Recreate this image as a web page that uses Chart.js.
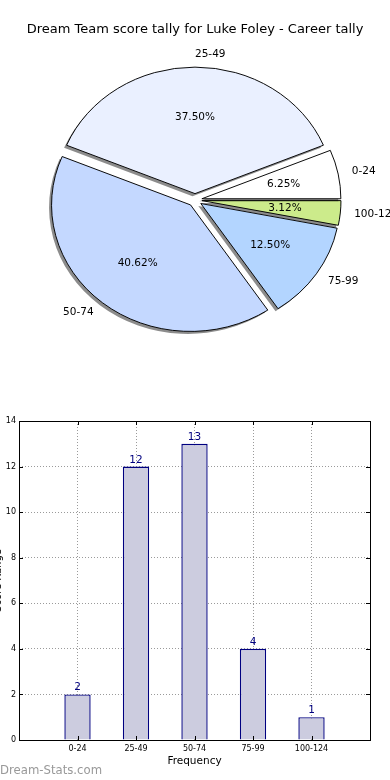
<!DOCTYPE html>
<html>
<head>
<meta charset="utf-8">
<script src="https://cdn.jsdelivr.net/npm/chart.js@4.4.0/dist/chart.umd.min.js"></script>
<style>
  html, body { margin: 0; padding: 0; background: #fff; }
  body { position: relative; width: 390px; height: 780px; overflow: hidden; }
  #pie { position: absolute; left: 0; top: 0; }
  #bargraph { position: absolute; left: -8px; top: 400px; }
  #credit { position: absolute; left: 0; top: 764px; font: 11.7px/12px "DejaVu Sans", sans-serif; color: #999; }
</style>
</head>
<body>
<canvas id="pie" width="390" height="400"></canvas>
<canvas id="bargraph" width="398" height="380"></canvas>
<div id="credit">Dream-Stats.com</div>
<script>
// score bins and how many games fell in each
var categories = ["0-24", "25-49", "50-74", "75-99", "100-124"];
var tally = [2, 12, 13, 4, 1];
var pieColors = ["#ffffff", "#eaf0ff", "#c4d8ff", "#b3d5ff", "#cceb8b"];
var yTicks = [0, 2, 4, 6, 8, 10, 12, 14];

var FONT = "DejaVu Sans";
var PIE_R = 139, PIE_SY = 0.91, EXPLODE = 7;

// python style %1.2f (round half to even)
function pctText(v, total) {
  var x = v / total * 10000;
  var n = Math.floor(x);
  var f = x - n;
  if (Math.abs(f - 0.5) < 1e-9) { if (n % 2) n += 1; }
  else if (f > 0.5) n += 1;
  return (n / 100).toFixed(2) + "%";
}

var total = tally.reduce(function (a, b) { return a + b; }, 0);
// matplotlib goes counter-clockwise, chart.js clockwise -> reverse
var pieLabels = categories.slice().reverse();
var pieData = tally.slice().reverse();
var pieBg = pieColors.slice().reverse();

var explodedPie = {
  id: 'explodedPie',
  beforeDatasetsDraw: function (chart) {
    var meta = chart.getDatasetMeta(0);
    meta.data.forEach(function (arc) {
      if (arc._wrapped) return;
      arc._wrapped = true;
      var base = Object.getPrototypeOf(arc).draw;
      arc.draw = function (c, area) {
        var mid = (this.startAngle + this.endAngle) / 2;
        c.save();
        c.translate(Math.cos(mid) * EXPLODE, Math.sin(mid) * EXPLODE);
        c.shadowColor = 'rgba(0,0,0,0.45)';
        c.shadowOffsetX = -2.5;
        c.shadowOffsetY = 2.5;
        // shadow only under the fill, not the edge line
        var stroke = c.stroke;
        c.stroke = function () {
          this.shadowColor = 'rgba(0,0,0,0)';
          return stroke.apply(this, arguments);
        };
        base.call(this, c, area);
        delete c.stroke;
        c.restore();
      };
    });
    var a = meta.data[0];
    var ctx = chart.ctx;
    ctx.save();
    ctx.translate(a.x, a.y);
    ctx.scale(1, PIE_SY);
    ctx.translate(-a.x, -a.y);
  },
  afterDatasetsDraw: function (chart) {
    var ctx = chart.ctx;
    ctx.restore();
    var meta = chart.getDatasetMeta(0);
    ctx.save();
    ctx.fillStyle = '#000';
    ctx.font = '10.5px "' + FONT + '"';
    ctx.textBaseline = 'middle';
    meta.data.forEach(function (arc, i) {
      var mid = (arc.startAngle + arc.endAngle) / 2;
      var cs = Math.cos(mid), sn = Math.sin(mid);
      var r = arc.outerRadius;
      ctx.textAlign = 'center';
      ctx.fillText(pctText(pieData[i], total),
        arc.x + cs * (EXPLODE + 0.6 * r), arc.y + sn * (EXPLODE + 0.6 * r) * PIE_SY);
      ctx.textAlign = cs >= -1e-9 ? 'left' : 'right';
      ctx.fillText(pieLabels[i],
        arc.x + cs * (EXPLODE + 1.1 * r), arc.y + sn * (EXPLODE + 1.1 * r) * PIE_SY);
    });
    ctx.restore();
  }
};

new Chart(document.getElementById('pie'), {
  type: 'pie',
  data: {
    labels: pieLabels,
    datasets: [{
      data: pieData,
      backgroundColor: pieBg,
      borderColor: '#000',
      borderWidth: 1,
      hoverOffset: 0,
      clip: false
    }]
  },
  options: {
    responsive: false,
    animation: false,
    rotation: 90,
    radius: PIE_R,
    layout: { padding: { top: 0, bottom: 52, left: 0, right: 0 } },
    plugins: {
      legend: { display: false },
      tooltip: { enabled: false },
      title: {
        display: true,
        text: 'Dream Team score tally for Luke Foley - Career tally',
        color: '#000',
        font: { family: FONT, size: 13, weight: 'normal' },
        padding: { top: 22, bottom: 14.4 }
      }
    }
  },
  plugins: [explodedPie]
});

// bar chart
var barExtras = {
  id: 'barExtras',
  afterDatasetsDraw: function (chart) {
    var ctx = chart.ctx;
    var meta = chart.getDatasetMeta(0);
    ctx.save();
    ctx.fillStyle = '#00007f';
    ctx.font = '10.5px "' + FONT + '"';
    ctx.textAlign = 'center';
    ctx.textBaseline = 'alphabetic';
    meta.data.forEach(function (bar, i) {
      ctx.fillText(String(tally[i]), bar.x, bar.y - 4);
    });
    ctx.restore();
  },
  afterDraw: function (chart) {
    var ctx = chart.ctx, a = chart.chartArea;
    var xs = chart.scales.x, ys = chart.scales.y;
    ctx.save();
    ctx.strokeStyle = '#000';
    ctx.lineWidth = 1;
    ctx.strokeRect(Math.round(a.left) + 0.5, Math.round(a.top) + 0.5,
      Math.round(a.right - a.left), Math.round(a.bottom - a.top));
    ctx.beginPath();
    categories.forEach(function (c, i) {
      var px = Math.round(xs.getPixelForValue(i + 1)) + 0.5;
      ctx.moveTo(px, a.bottom); ctx.lineTo(px, a.bottom - 4);
      ctx.moveTo(px, a.top); ctx.lineTo(px, a.top + 4);
    });
    yTicks.forEach(function (v) {
      var py = Math.round(ys.getPixelForValue(v)) + 0.5;
      ctx.moveTo(a.left, py); ctx.lineTo(a.left + 4, py);
      ctx.moveTo(a.right, py); ctx.lineTo(a.right - 4, py);
    });
    ctx.stroke();
    ctx.restore();
  }
};

new Chart(document.getElementById('bargraph'), {
  type: 'bar',
  data: {
    datasets: [{
      data: tally.map(function (v, i) { return { x: i + 1, y: v }; }),
      backgroundColor: '#ccccdf',
      borderColor: '#000080',
      borderWidth: 1.4,
      barPercentage: 0.45,
      categoryPercentage: 1
    }]
  },
  options: {
    responsive: false,
    animation: false,
    layout: { padding: { top: 21, right: 20, bottom: 12, left: 0 } },
    plugins: { legend: { display: false }, tooltip: { enabled: false } },
    scales: {
      x: {
        type: 'linear',
        min: 0,
        max: categories.length + 1,
        offset: false,
        z: 1,
        afterFit: function (s) { s.height = 28; },
        grid: { offset: false, color: '#9a9a9a', lineWidth: 1, drawTicks: false },
        border: { display: false, dash: [1, 2] },
        ticks: {
          stepSize: 1,
          padding: 4,
          autoSkip: false,
          maxRotation: 0,
          color: '#000',
          font: { family: FONT, size: 8 },
          callback: function (v) { return categories[v - 1] || ''; }
        },
        title: {
          display: true,
          text: 'Frequency',
          color: '#000',
          font: { family: FONT, size: 10.5 },
          padding: 0
        }
      },
      y: {
        min: 0,
        max: 14,
        z: 1,
        afterFit: function (s) { s.width = 27; },
        afterBuildTicks: function (s) { s.ticks = yTicks.map(function (v) { return { value: v }; }); },
        grid: { color: '#9a9a9a', lineWidth: 1, drawTicks: false },
        border: { display: false, dash: [1, 2] },
        ticks: {
          padding: 3,
          color: '#000',
          font: { family: FONT, size: 8 }
        },
        title: {
          display: true,
          text: 'Score Range',
          color: '#000',
          font: { family: FONT, size: 10 },
          padding: 0
        }
      }
    }
  },
  plugins: [barExtras]
});
</script>
</body>
</html>
